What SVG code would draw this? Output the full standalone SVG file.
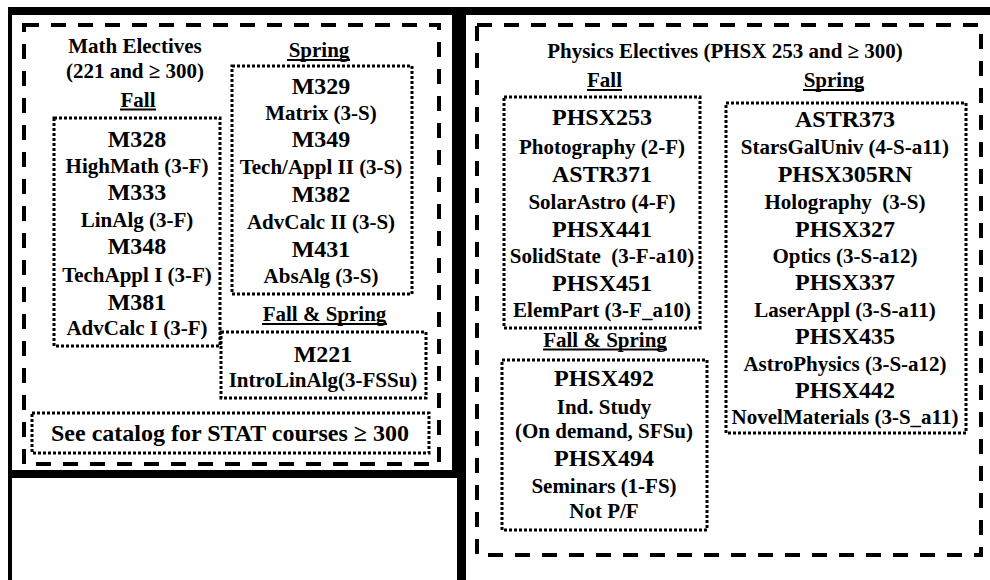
<svg xmlns="http://www.w3.org/2000/svg" width="990" height="580" viewBox="0 0 990 580">
<style>
.t{font-family:"Liberation Serif","Times New Roman",serif;font-weight:bold;text-anchor:middle;fill:#000;white-space:pre}
.s{font-size:21px}
.c{font-size:24px}
.dash{fill:none;stroke:#000;stroke-width:4;stroke-dasharray:15 12}
.dot{fill:none;stroke:#000;stroke-width:3;stroke-dasharray:3 2}
.ul{stroke:#000;stroke-width:2}
.frame{fill:#000}
</style>
<rect width="990" height="580" fill="#fff"/>
<g id="frames">
<rect class="frame" x="8" y="7" width="982" height="8"/>
<rect class="frame" x="8" y="7" width="4" height="573"/>
<rect class="frame" x="452" y="7" width="14" height="471"/>
<rect class="frame" x="457" y="478" width="9" height="102"/>
<rect class="frame" x="8" y="470" width="450" height="8"/>
</g>
<g id="math-electives">
<rect class="dash" x="24" y="25" width="415" height="439"/>
<text class="t s" x="135" y="53">Math Electives</text>
<text class="t s" x="135" y="78">(221 and ≥ 300)</text>
<text class="t s" x="138" y="107">Fall</text>
<line class="ul" x1="120" y1="109.5" x2="156" y2="109.5"/>
<text class="t s" x="319" y="57">Spring</text>
<line class="ul" x1="287" y1="60" x2="350" y2="60"/>
<text class="t s" x="324.5" y="321">Fall &amp; Spring</text>
<line class="ul" x1="262" y1="324" x2="387" y2="324"/>
</g>
<g id="math-fall">
<rect class="dot" x="54" y="118" width="166" height="228"/>
<text class="t c" x="137" y="147">M328</text>
<text class="t s" x="137" y="173">HighMath (3-F)</text>
<text class="t c" x="137" y="200">M333</text>
<text class="t s" x="137" y="227">LinAlg (3-F)</text>
<text class="t c" x="137" y="254">M348</text>
<text class="t s" x="137" y="282">TechAppl I (3-F)</text>
<text class="t c" x="137" y="310">M381</text>
<text class="t s" x="137" y="335">AdvCalc I (3-F)</text>
</g>
<g id="math-spring">
<rect class="dot" x="232" y="66" width="180" height="228"/>
<text class="t c" x="321" y="94">M329</text>
<text class="t s" x="321" y="120">Matrix (3-S)</text>
<text class="t c" x="321" y="147">M349</text>
<text class="t s" x="321" y="174">Tech/Appl II (3-S)</text>
<text class="t c" x="321" y="202">M382</text>
<text class="t s" x="321" y="229">AdvCalc II (3-S)</text>
<text class="t c" x="321" y="257">M431</text>
<text class="t s" x="321" y="283">AbsAlg (3-S)</text>
</g>
<g id="math-fall-spring">
<rect class="dot" x="221" y="332" width="205" height="66"/>
<text class="t c" x="323" y="362">M221</text>
<text class="t s" x="323" y="387">IntroLinAlg(3-FSSu)</text>
</g>
<g id="stat-note">
<rect class="dot" x="32" y="413" width="397" height="40"/>
<text class="t c" x="230" y="441">See catalog for STAT courses ≥ 300</text>
</g>
<g id="physics-electives">
<rect class="dash" x="477" y="25" width="504" height="530"/>
<text class="t s" x="725" y="58">Physics Electives (PHSX 253 and ≥ 300)</text>
<text class="t s" x="604.5" y="87">Fall</text>
<line class="ul" x1="587" y1="90" x2="622" y2="90"/>
<text class="t s" x="834" y="87">Spring</text>
<line class="ul" x1="803" y1="90" x2="864" y2="90"/>
<text class="t s" x="605" y="347">Fall &amp; Spring</text>
<line class="ul" x1="543" y1="349.5" x2="667" y2="349.5"/>
</g>
<g id="phsx-fall">
<rect class="dot" x="504" y="97" width="196" height="231"/>
<text class="t c" x="602" y="125">PHSX253</text>
<text class="t s" x="602" y="154">Photography (2-F)</text>
<text class="t c" x="602" y="182">ASTR371</text>
<text class="t s" x="602" y="209">SolarAstro (4-F)</text>
<text class="t c" x="602" y="237">PHSX441</text>
<text class="t s" x="602" y="263">SolidState  (3-F-a10)</text>
<text class="t c" x="602" y="291">PHSX451</text>
<text class="t s" x="602" y="317">ElemPart (3-F_a10)</text>
</g>
<g id="phsx-spring">
<rect class="dot" x="726" y="103" width="240" height="330"/>
<text class="t c" x="845" y="127">ASTR373</text>
<text class="t s" x="845" y="154">StarsGalUniv (4-S-a11)</text>
<text class="t c" x="845" y="182">PHSX305RN</text>
<text class="t s" x="845" y="209">Holography  (3-S)</text>
<text class="t c" x="845" y="237">PHSX327</text>
<text class="t s" x="845" y="263">Optics (3-S-a12)</text>
<text class="t c" x="845" y="290">PHSX337</text>
<text class="t s" x="845" y="317">LaserAppl (3-S-a11)</text>
<text class="t c" x="845" y="344">PHSX435</text>
<text class="t s" x="845" y="371">AstroPhysics (3-S-a12)</text>
<text class="t c" x="845" y="398">PHSX442</text>
<text class="t s" x="845" y="424">NovelMaterials (3-S_a11)</text>
</g>
<g id="phsx-fall-spring">
<rect class="dot" x="502" y="360" width="205" height="170"/>
<text class="t c" x="604" y="386">PHSX492</text>
<text class="t s" x="604" y="414">Ind. Study</text>
<text class="t s" x="604" y="438">(On demand, SFSu)</text>
<text class="t c" x="604" y="466">PHSX494</text>
<text class="t s" x="604" y="493">Seminars (1-FS)</text>
<text class="t s" x="604" y="518">Not P/F</text>
</g>
<g id="connectors"/>
</svg>
